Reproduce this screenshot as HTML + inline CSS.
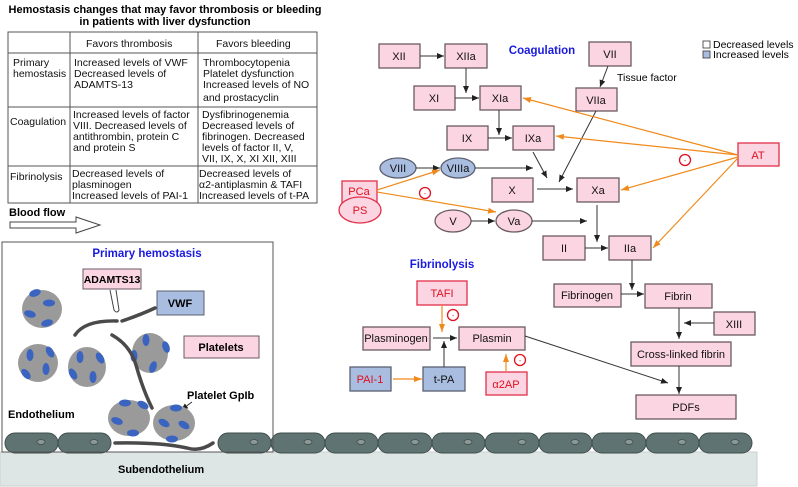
<!DOCTYPE html>
<html><head><meta charset="utf-8"><style>
body{margin:0;background:#fff;}
svg{display:block;font-family:"Liberation Sans",Verdana,sans-serif;}
.b{fill:#fcd5e2;stroke:#6a5a64;stroke-width:1.3;}
.bl{fill:#a9bde0;stroke:#5a6070;stroke-width:1.3;}
.rb{fill:#fcd5e2;stroke:#e0304a;stroke-width:1.3;}
.t{font-size:11px;fill:#111;text-anchor:middle;}
.r{font-size:11px;fill:#e01020;text-anchor:middle;}
.ln{stroke:#333;stroke-width:1;fill:none;}
.or{stroke:#f08a1c;stroke-width:1.2;fill:none;}
.tb{font-size:10.5px;fill:#111;}
</style></head><body>
<svg width="798" height="487" viewBox="0 0 798 487">
<defs>
<marker id="ak" markerWidth="8" markerHeight="8" refX="7" refY="4" orient="auto" markerUnits="userSpaceOnUse"><path d="M0,1 L7,4 L0,7 Z" fill="#222"/></marker>
<marker id="ao" markerWidth="9" markerHeight="8" refX="8" refY="4" orient="auto" markerUnits="userSpaceOnUse"><path d="M0,1 L8,4 L0,7 Z" fill="#f08a1c"/></marker>
<g id="plt"><ellipse cx="0" cy="0" rx="20" ry="19" fill="#999"/></g>
</defs>

<!-- Table -->
<text x="165" y="13" style="font-size:11px;font-weight:bold;text-anchor:middle">Hemostasis changes that may favor thrombosis or bleeding</text>
<text x="165" y="25" style="font-size:11px;font-weight:bold;text-anchor:middle">in patients with liver dysfunction</text>
<g stroke="#555" fill="none" stroke-width="1">
<rect x="8" y="32" width="309" height="171"/>
<line x1="70" y1="32" x2="70" y2="203"/><line x1="198" y1="32" x2="198" y2="203"/>
<line x1="8" y1="53" x2="317" y2="53"/><line x1="8" y1="107" x2="317" y2="107"/><line x1="8" y1="166" x2="317" y2="166"/>
</g>
<g class="tb">
<text x="86" y="47">Favors thrombosis</text><text x="216" y="47">Favors bleeding</text>
<text x="13" y="66">Primary</text><text x="13" y="77">hemostasis</text>
<text x="74" y="66">Increased levels of VWF</text><text x="74" y="77">Decreased levels of</text><text x="74" y="88">ADAMTS-13</text>
<text x="203" y="66">Thrombocytopenia</text><text x="203" y="77">Platelet dysfunction</text><text x="203" y="88">Increased levels of NO</text><text x="203" y="101">and prostacyclin</text>
<text x="10" y="125">Coagulation</text>
<text x="73" y="118">Increased levels of factor</text><text x="73" y="129">VIII. Decreased levels of</text><text x="73" y="140">antithrombin, protein C</text><text x="73" y="151">and protein S</text>
<text x="202" y="118">Dysfibrinogenemia</text><text x="202" y="129">Decreased levels of</text><text x="202" y="140">fibrinogen. Decreased</text><text x="202" y="151">levels of factor II, V,</text><text x="202" y="162">VII, IX, X, XI XII, XIII</text>
<text x="10" y="180">Fibrinolysis</text>
<text x="72" y="177">Decreased levels of</text><text x="72" y="188">plasminogen</text><text x="72" y="199">Increased levels of PAI-1</text>
<text x="199" y="177">Decreased levels of</text><text x="199" y="188">α2-antiplasmin &amp; TAFI</text><text x="199" y="199">Increased levels of t-PA</text>
</g>
<text x="9" y="216" style="font-size:11px;font-weight:bold">Blood flow</text>
<path d="M10,222 H76 V217 L100,225 L76,233 V228 H10 Z" fill="#fff" stroke="#444" stroke-width="1"/>

<!-- Legend -->
<rect x="703" y="41" width="7" height="7" fill="#fff" stroke="#333" stroke-width="0.8"/>
<rect x="703" y="51" width="7" height="7" fill="#a9bde0" stroke="#333" stroke-width="0.8"/>
<text x="713" y="48" style="font-size:10.5px">Decreased levels</text>
<text x="713" y="58" style="font-size:10.5px">Increased levels</text>

<!-- Coagulation -->
<text x="542" y="54" style="font-size:11.5px;font-weight:bold;fill:#1a1ae0;text-anchor:middle">Coagulation</text>
<text x="617" y="81" style="font-size:10.5px">Tissue factor</text>
<g>
<rect class="b" x="379" y="44" width="41" height="24"/><text class="t" x="399" y="60">XII</text>
<rect class="b" x="445" y="44" width="42" height="24"/><text class="t" x="466" y="60">XIIa</text>
<rect class="b" x="589" y="42" width="42" height="24"/><text class="t" x="610" y="58">VII</text>
<rect class="b" x="414" y="86" width="41" height="24"/><text class="t" x="434" y="102">XI</text>
<rect class="b" x="480" y="86" width="41" height="24"/><text class="t" x="500" y="102">XIa</text>
<rect class="b" x="576" y="88" width="41" height="23"/><text class="t" x="596" y="104">VIIa</text>
<rect class="b" x="447" y="126" width="41" height="24"/><text class="t" x="467" y="142">IX</text>
<rect class="b" x="513" y="126" width="41" height="24"/><text class="t" x="533" y="142">IXa</text>
<rect class="rb" x="738" y="143" width="41" height="23"/><text class="r" x="758" y="159">AT</text>
<ellipse class="bl" cx="398" cy="168" rx="18" ry="10"/><text class="t" x="398" y="172">VIII</text>
<ellipse class="bl" cx="458" cy="168" rx="17" ry="10"/><text class="t" x="458" y="172">VIIIa</text>
<rect class="rb" x="342" y="181" width="35" height="22"/><text class="r" x="359" y="195">PCa</text>
<ellipse class="rb" cx="360" cy="210" rx="21" ry="13"/><text class="r" x="360" y="214">PS</text>
<rect class="b" x="492" y="178" width="41" height="24"/><text class="t" x="512" y="194">X</text>
<rect class="b" x="577" y="178" width="42" height="24"/><text class="t" x="598" y="194">Xa</text>
<ellipse class="b" cx="453" cy="221" rx="18" ry="11"/><text class="t" x="453" y="225">V</text>
<ellipse class="b" cx="514" cy="221" rx="18" ry="11"/><text class="t" x="514" y="225">Va</text>
<rect class="b" x="543" y="236" width="42" height="24"/><text class="t" x="564" y="252">II</text>
<rect class="b" x="609" y="236" width="42" height="24"/><text class="t" x="630" y="252">IIa</text>
</g>
<g class="ln">
<line x1="420" y1="56" x2="444" y2="56" marker-end="url(#ak)"/>
<line x1="466" y1="68" x2="466" y2="93" marker-end="url(#ak)"/>
<line x1="455" y1="98" x2="479" y2="98" marker-end="url(#ak)"/>
<line x1="499" y1="110" x2="499" y2="135" marker-end="url(#ak)"/>
<line x1="488" y1="138" x2="512" y2="138" marker-end="url(#ak)"/>
<line x1="608" y1="66" x2="600" y2="87" marker-end="url(#ak)"/>
<line x1="596" y1="111" x2="559" y2="182" marker-end="url(#ak)"/>
<line x1="533" y1="152" x2="547" y2="178" marker-end="url(#ak)"/>
<line x1="475" y1="168" x2="533" y2="168" marker-end="url(#ak)"/>
<line x1="416" y1="168" x2="440" y2="168" marker-end="url(#ak)"/>
<line x1="537" y1="189" x2="573" y2="189" marker-end="url(#ak)"/>
<line x1="471" y1="221" x2="495" y2="221" marker-end="url(#ak)"/>
<line x1="532" y1="221" x2="587" y2="221" marker-end="url(#ak)"/>
<line x1="597" y1="205" x2="597" y2="242" marker-end="url(#ak)"/>
<line x1="585" y1="248" x2="608" y2="248" marker-end="url(#ak)"/>
<line x1="632" y1="260" x2="632" y2="290" marker-end="url(#ak)"/>
</g>
<g class="or">
<line x1="738" y1="155" x2="523" y2="98" marker-end="url(#ao)"/>
<line x1="738" y1="155" x2="556" y2="136" marker-end="url(#ao)"/>
<line x1="738" y1="157" x2="621" y2="190" marker-end="url(#ao)"/>
<line x1="738" y1="158" x2="653" y2="248" marker-end="url(#ao)"/>
<line x1="377" y1="190" x2="440" y2="170" marker-end="url(#ao)"/>
<line x1="377" y1="192" x2="496" y2="212" marker-end="url(#ao)"/>
</g>
<circle cx="685" cy="160" r="5.5" fill="none" stroke="#e01020" stroke-width="1.3"/><text x="685" y="163" style="font-size:7px;fill:#e01020;text-anchor:middle">-</text>
<circle cx="425" cy="193" r="5.5" fill="none" stroke="#e01020" stroke-width="1.3"/><text x="425" y="196" style="font-size:7px;fill:#e01020;text-anchor:middle">-</text>

<!-- Fibrinolysis -->
<text x="442" y="268" style="font-size:11.5px;font-weight:bold;fill:#1a1ae0;text-anchor:middle">Fibrinolysis</text>
<rect class="rb" x="417" y="281" width="50" height="24"/><text class="r" x="442" y="297">TAFI</text>
<rect class="b" x="363" y="327" width="67" height="23"/><text class="t" x="396" y="342">Plasminogen</text>
<rect class="b" x="459" y="327" width="66" height="23"/><text class="t" x="492" y="342">Plasmin</text>
<rect class="bl" x="350" y="367" width="41" height="24"/><text class="r" x="370" y="383">PAI-1</text>
<rect class="bl" x="423" y="367" width="42" height="24"/><text class="t" x="444" y="383">t-PA</text>
<rect class="rb" x="486" y="372" width="41" height="23"/><text class="r" x="506" y="388">α2AP</text>
<rect class="b" x="554" y="284" width="67" height="23"/><text class="t" x="587" y="299">Fibrinogen</text>
<rect class="b" x="645" y="284" width="67" height="24"/><text class="t" x="678" y="300">Fibrin</text>
<rect class="b" x="714" y="312" width="41" height="23"/><text class="t" x="734" y="328">XIII</text>
<rect class="b" x="631" y="342" width="100" height="24"/><text class="t" x="681" y="358">Cross-linked fibrin</text>
<rect class="b" x="636" y="395" width="100" height="24"/><text class="t" x="686" y="411">PDFs</text>
<g class="ln">
<line x1="433" y1="338" x2="457" y2="338" marker-end="url(#ak)"/>
<line x1="444" y1="367" x2="444" y2="341" marker-end="url(#ak)"/>
<line x1="525" y1="336" x2="668" y2="383" marker-end="url(#ak)"/>
<line x1="621" y1="294" x2="644" y2="294" marker-end="url(#ak)"/>
<line x1="679" y1="308" x2="679" y2="339" marker-end="url(#ak)"/>
<line x1="714" y1="323" x2="684" y2="323" marker-end="url(#ak)"/>
<line x1="679" y1="366" x2="679" y2="394" marker-end="url(#ak)"/>
</g>
<g class="or">
<line x1="442" y1="305" x2="442" y2="332" marker-end="url(#ao)"/>
<line x1="393" y1="379" x2="422" y2="379" marker-end="url(#ao)"/>
<line x1="506" y1="371" x2="506" y2="354" marker-end="url(#ao)"/>
</g>
<circle cx="453" cy="315" r="5.5" fill="none" stroke="#e01020" stroke-width="1.3"/><text x="453" y="318" style="font-size:7px;fill:#e01020;text-anchor:middle">-</text>
<circle cx="520" cy="360" r="5.5" fill="none" stroke="#e01020" stroke-width="1.3"/><text x="520" y="363" style="font-size:7px;fill:#e01020;text-anchor:middle">-</text>

<!-- Subendothelium & endothelium -->
<rect x="0" y="452" width="757" height="34" fill="#dde6e4" stroke="#c8d2d0"/>
<text x="118" y="473" style="font-size:11px;font-weight:bold">Subendothelium</text>
<g fill="#5f7472" stroke="#3f4e4c" stroke-width="1">
<rect x="5" y="433" width="53" height="20" rx="10"/><rect x="58" y="433" width="53" height="20" rx="10"/>
<rect x="218" y="433" width="53" height="20" rx="10"/><rect x="271" y="433" width="54" height="20" rx="10"/>
<rect x="325" y="433" width="53" height="20" rx="10"/><rect x="378" y="433" width="54" height="20" rx="10"/>
<rect x="432" y="433" width="53" height="20" rx="10"/><rect x="485" y="433" width="54" height="20" rx="10"/>
<rect x="539" y="433" width="53" height="20" rx="10"/><rect x="592" y="433" width="54" height="20" rx="10"/>
<rect x="646" y="433" width="53" height="20" rx="10"/><rect x="699" y="433" width="53" height="20" rx="10"/>
</g>
<g fill="#8a9896" stroke="#3f4e4c" stroke-width="0.8">
<ellipse cx="41" cy="442" rx="4" ry="2.5"/><ellipse cx="94" cy="442" rx="4" ry="2.5"/>
<ellipse cx="254" cy="442" rx="4" ry="2.5"/><ellipse cx="308" cy="442" rx="4" ry="2.5"/>
<ellipse cx="361" cy="442" rx="4" ry="2.5"/><ellipse cx="415" cy="442" rx="4" ry="2.5"/>
<ellipse cx="468" cy="442" rx="4" ry="2.5"/><ellipse cx="522" cy="442" rx="4" ry="2.5"/>
<ellipse cx="575" cy="442" rx="4" ry="2.5"/><ellipse cx="629" cy="442" rx="4" ry="2.5"/>
<ellipse cx="682" cy="442" rx="4" ry="2.5"/><ellipse cx="735" cy="442" rx="4" ry="2.5"/>
</g>

<!-- Primary hemostasis box -->
<rect x="2" y="242" width="271" height="210" fill="none" stroke="#555" stroke-width="1"/>
<text x="147" y="257" style="font-size:11.5px;font-weight:bold;fill:#1a1ae0;text-anchor:middle">Primary hemostasis</text>
<text x="8" y="418" style="font-size:11px;font-weight:bold">Endothelium</text>
<text x="187" y="399" style="font-size:11px;font-weight:bold">Platelet GpIb</text>
<line x1="192" y1="402" x2="181" y2="410" stroke="#222" stroke-width="0.8" marker-end="url(#ak)"/>
<rect x="83" y="269" width="58" height="20" fill="#fcd5e2" stroke="#6a5a64"/>
<text x="112" y="283" style="font-size:10.5px;font-weight:bold;text-anchor:middle">ADAMTS13</text>
<rect x="157" y="291" width="47" height="24" fill="#a9bde0" stroke="#5a6070"/>
<text x="180" y="307" style="font-size:11px;font-weight:bold;text-anchor:middle">VWF</text>
<rect x="184" y="336" width="75" height="22" fill="#fcd5e2" stroke="#6a5a64"/>
<text x="221" y="351" style="font-size:11px;font-weight:bold;text-anchor:middle">Platelets</text>
<path d="M110,290 L114,310 Q117,314 119,310 L116,290" fill="#fff" stroke="#444" stroke-width="1"/>
<g fill="#9a9a9a">
<ellipse cx="42" cy="309" rx="20" ry="19"/><ellipse cx="38" cy="363" rx="20" ry="19"/>
<ellipse cx="87" cy="367" rx="19" ry="20"/><ellipse cx="150" cy="353" rx="18" ry="20"/>
<ellipse cx="129" cy="418" rx="21" ry="18"/><ellipse cx="174" cy="423" rx="21" ry="18"/>
</g>
<g fill="#3a64c0">
<ellipse cx="35" cy="293" rx="6" ry="3.5" transform="rotate(-20 35 293)"/><ellipse cx="49" cy="303" rx="6" ry="3.5"/><ellipse cx="30" cy="314" rx="6" ry="3.5" transform="rotate(15 30 314)"/><ellipse cx="47" cy="323" rx="6" ry="3.5" transform="rotate(-15 47 323)"/>
<ellipse cx="30" cy="355" rx="3.5" ry="6"/><ellipse cx="50" cy="352" rx="3.5" ry="6" transform="rotate(-30 50 352)"/><ellipse cx="46" cy="369" rx="3.5" ry="6"/><ellipse cx="26" cy="374" rx="3.5" ry="6" transform="rotate(-40 26 374)"/>
<ellipse cx="80" cy="357" rx="3.5" ry="6"/><ellipse cx="100" cy="358" rx="3.5" ry="6" transform="rotate(-30 100 358)"/><ellipse cx="73" cy="374" rx="3.5" ry="6" transform="rotate(-30 73 374)"/><ellipse cx="93" cy="377" rx="3.5" ry="6"/>
<ellipse cx="146" cy="340" rx="3.5" ry="6"/><ellipse cx="166" cy="347" rx="3.5" ry="6" transform="rotate(-20 166 347)"/><ellipse cx="134" cy="356" rx="3.5" ry="6"/><ellipse cx="153" cy="367" rx="3.5" ry="6" transform="rotate(20 153 367)"/>
<ellipse cx="125" cy="403" rx="6" ry="3.5"/><ellipse cx="143" cy="405" rx="6" ry="3.5" transform="rotate(30 143 405)"/><ellipse cx="117" cy="421" rx="6" ry="3.5" transform="rotate(20 117 421)"/><ellipse cx="133" cy="433" rx="6" ry="3.5"/>
<ellipse cx="176" cy="408" rx="6" ry="3.5"/><ellipse cx="164" cy="423" rx="6" ry="3.5" transform="rotate(30 164 423)"/><ellipse cx="184" cy="425" rx="6" ry="3.5" transform="rotate(30 184 425)"/><ellipse cx="172" cy="439" rx="6" ry="3.5"/>
</g>
<g fill="none" stroke="#4a4a4a" stroke-width="3.5" stroke-linecap="round">
<path d="M75,335 Q85,320 117,321"/>
<path d="M122,321 Q140,315 155,308"/>
<path d="M112,335 Q130,345 136,365 Q143,390 152,408"/>
<path d="M115,443 Q160,442 187,448 Q200,452 213,443"/>
</g>
</svg>
</body></html>
